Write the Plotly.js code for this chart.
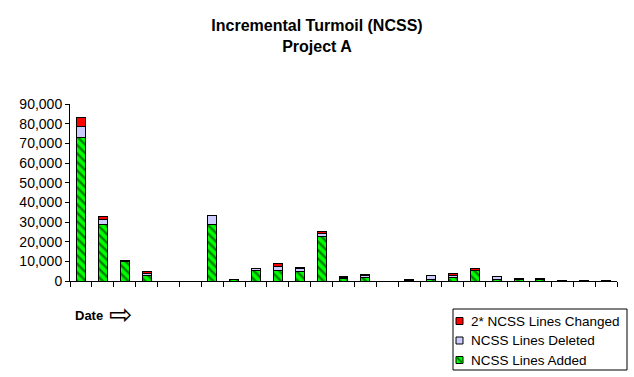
<!DOCTYPE html>
<html>
<head>
<meta charset="utf-8">
<script src="https://cdn.plot.ly/plotly-3.0.1.min.js"></script>
<style>html,body{margin:0;padding:0;background:#fff;}#chart{width:634px;height:377px;}</style>
</head>
<body>
<div id="chart"></div>
<script>
const categories = ["P1","P2","P3","P4","P5","P6","P7","P8","P9","P10","P11","P12","P13","P14","P15","P16","P17","P18","P19","P20","P21","P22","P23","P24","P25"];
const linesAdded   = [73200,28700,10000,2800,0,0,28700,800,5200,5200,4900,22600,1100,1900,0,400,900,1800,5200,900,1000,900,200,200,200];
const linesDeleted = [5600,2600,300,900,0,0,4400,0,1000,2200,1600,1500,700,900,0,200,1700,800,300,1400,200,300,100,100,100];
const linesChanged = [4100,1500,200,1200,0,0,400,0,400,1500,400,1200,500,500,0,200,200,1100,900,0,100,100,0,0,0];
const seriesNames = ["NCSS Lines Added","NCSS Lines Deleted","2* NCSS Lines Changed"];
const seriesColors = ['#00FF00','#CCCCFF','#FF0000'];

const W = 634, H = 377, ML = 70, MR = 17, MT = 104, MB = 96;
const PW = W - ML - MR, PH = H - MT - MB;
const px = v => (v - ML) / PW;          // pixel -> paper x
const py = v => (H - MB - v) / PH;      // pixel -> paper y

const line = {color:'#000000', width:1};
const traces = [
  {type:'bar', name:seriesNames[0], x:categories, y:linesAdded, showlegend:false,
   marker:{color:seriesColors[0], line:line, pattern:{shape:'\\', bgcolor:'#00FF00', fgcolor:'#008000', size:6, solidity:0.4}}},
  {type:'bar', name:seriesNames[1], x:categories, y:linesDeleted, showlegend:false,
   marker:{color:seriesColors[1], line:line}},
  {type:'bar', name:seriesNames[2], x:categories, y:linesChanged, showlegend:false,
   marker:{color:seriesColors[2], line:line}}
];

// manual legend (reversed order, like the reference)
const shapes = [
  {type:'rect', xref:'paper', yref:'paper', x0:px(453), x1:px(627), y0:py(370), y1:py(309),
   line:{color:'#000', width:1}, fillcolor:'#fff', layer:'above'}
];
const annotations = [
  {text:'<b>Date</b>', xref:'paper', yref:'paper', x:px(73), y:py(315), xanchor:'left', yanchor:'middle', showarrow:false, font:{size:13}},
  {text:'⇨', xref:'paper', yref:'paper', x:px(107), y:py(314), xanchor:'left', yanchor:'middle', showarrow:false, font:{size:28, family:'DejaVu Sans'}}
];
const rowY = [321, 340.5, 360];
for (let k = 0; k < 3; k++) {
  const s = 2 - k;
  const cy = rowY[k];
  shapes.push({type:'rect', xref:'paper', yref:'paper', x0:px(456), x1:px(463), y0:py(cy+3.5), y1:py(cy-3.5),
               line:{color:'#000', width:1}, fillcolor:seriesColors[s], layer:'above'});
  if (s === 0) {
    shapes.push({type:'line', xref:'paper', yref:'paper', x0:px(456.5), x1:px(462.5), y0:py(cy-3), y1:py(cy+3),
                 line:{color:'#008000', width:2}, layer:'above'});
  }
  annotations.push({text:seriesNames[s], xref:'paper', yref:'paper', x:px(469), y:py(cy), xanchor:'left', yanchor:'middle',
                    showarrow:false, font:{size:13.5}});
}

const layout = {
  width:W, height:H,
  margin:{l:ML, r:MR, t:MT, b:MB, autoexpand:false},
  paper_bgcolor:'#ffffff', plot_bgcolor:'#ffffff',
  font:{family:'Liberation Sans, Arial, sans-serif', size:13, color:'#000000'},
  barmode:'stack', bargap:0.59,
  showlegend:false,
  title:{text:'<b>Incremental Turmoil (NCSS)</b><br><b>Project A</b>', font:{size:16, color:'#000'}, x:0.5, xanchor:'center', yref:'container', y:0.918, yanchor:'top'},
  xaxis:{showticklabels:false, ticks:'outside', ticklen:5, tickcolor:'#000', tickson:'boundaries',
         showline:true, linecolor:'#000', linewidth:1, showgrid:false, zeroline:false, fixedrange:true},
  yaxis:{range:[0,90000], dtick:10000, tickformat:',d', ticks:'outside', ticklen:4, tickcolor:'#000',
         showline:true, linecolor:'#000', linewidth:1, showgrid:false, zeroline:false, fixedrange:true,
         tickfont:{size:14}},
  shapes:shapes,
  annotations:annotations
};
Plotly.newPlot('chart', traces, layout, {displayModeBar:false, staticPlot:true});
</script>
</body>
</html>
